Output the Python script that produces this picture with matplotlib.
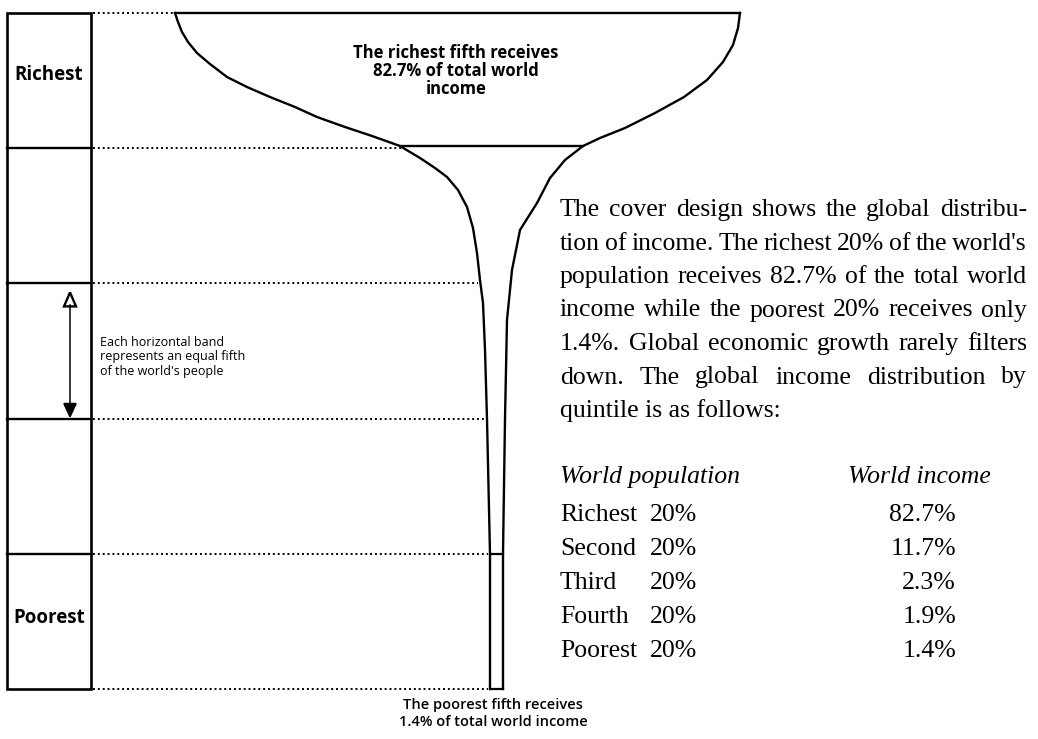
import numpy as np
import matplotlib
matplotlib.use('Agg')
import matplotlib.pyplot as plt
from matplotlib.patches import Rectangle, Polygon

# ---- data ---------------------------------------------------------------
quintiles = ['Richest', 'Second', 'Third', 'Fourth', 'Poorest']
population_share = [20, 20, 20, 20, 20]
income_share = [82.7, 11.7, 2.3, 1.9, 1.4]

# outline of the "champagne glass" (pixel units)
glass_left_y = [13, 22, 32, 42, 53, 64, 77, 87, 97, 107, 117, 127, 136, 146,
                158, 168, 177, 190, 207, 228, 253, 280, 303, 350, 419, 554, 689]
glass_left_x = [175, 178, 182, 188, 197, 210, 227, 247, 270, 295, 317, 345, 372, 400,
                420, 435, 447, 458, 467, 473, 477, 480, 483, 485, 487, 490, 490]
glass_right_y = [13, 28, 45, 62, 80, 97, 113, 128, 138, 146,
                 160, 178, 203, 230, 270, 320, 419, 554, 689]
glass_right_x = [740, 738, 733, 723, 707, 684, 655, 625, 600, 583,
                 565, 550, 537, 520, 512, 507, 505, 503, 503]

paragraph = [
    "The cover design shows the global distribu-",
    "tion of income. The richest 20% of the world's",
    "population receives 82.7% of the total world",
    "income while the poorest 20% receives only",
    "1.4%. Global economic growth rarely filters",
    "down. The global income distribution by",
    "quintile is as follows:",
]

SANS = ['Open Sans', 'DejaVu Sans']
SERIF = ['Liberation Serif', 'DejaVu Serif']

# ---- figure in pixel coordinates ---------------------------------------
W, H = 1038, 739
fig = plt.figure(figsize=(W / 100, H / 100), dpi=100)
ax = fig.add_axes([0, 0, 1, 1])
ax.set_xlim(0, W)
ax.set_ylim(H, 0)
ax.axis('off')
r = fig.canvas.get_renderer()

top, bottom = 13, 689
box_l, box_r = 7, 91
edges = np.linspace(top, bottom, len(quintiles) + 1)

# left column of bands
ax.add_patch(Rectangle((box_l, top), box_r - box_l, bottom - top,
                       fill=False, lw=1.9, ec='black'))
for e in edges[1:-1]:
    ax.plot([box_l, box_r], [e, e], color='black', lw=1.7)

# dotted guide lines up to the glass
for e in edges:
    x_end = np.interp(e, glass_left_y, glass_left_x)
    ax.plot([box_r + 2, x_end - 2], [e, e], color='black', lw=1.4,
            linestyle=(0, (1, 1.5)))

# glass outline
ax.plot(glass_left_x, glass_left_y, color='black', lw=1.7, solid_joinstyle='round')
ax.plot(glass_right_x, glass_right_y, color='black', lw=1.7, solid_joinstyle='round')
ax.plot([glass_left_x[0], glass_right_x[0]], [top, top], color='black', lw=1.7)
bowl_y = edges[1] - 2
ax.plot([np.interp(bowl_y, glass_left_y, glass_left_x),
         np.interp(bowl_y, glass_right_y, glass_right_x)], [bowl_y, bowl_y],
        color='black', lw=1.7)
for e in edges[-2:]:
    ax.plot([np.interp(e, glass_left_y, glass_left_x),
             np.interp(e, glass_right_y, glass_right_x)], [e, e],
            color='black', lw=1.6)

# band labels
ax.text((box_l + box_r) / 2, (edges[0] + edges[1]) / 2 - 6, quintiles[0],
        ha='center', va='center', fontsize=13.5, fontweight='bold', family=SANS)
ax.text((box_l + box_r) / 2, (edges[-2] + edges[-1]) / 2 - 3, quintiles[-1],
        ha='center', va='center', fontsize=13.5, fontweight='bold', family=SANS)

# arrow in the third band
ax_x = 70
a0, a1 = edges[2] + 9, edges[3] - 2
ax.plot([ax_x, ax_x], [a0 + 13, a1 - 13], color='black', lw=1.1)
ax.add_patch(Polygon([[ax_x, a0], [ax_x - 6, a0 + 14], [ax_x + 6, a0 + 14]],
                     closed=True, fc='white', ec='black', lw=1.7))
ax.add_patch(Polygon([[ax_x - 6, a1 - 13], [ax_x + 6, a1 - 13], [ax_x, a1]],
                     closed=True, fc='black', ec='black', lw=1.2))
for i, s in enumerate(["Each horizontal band", "represents an equal fifth",
                       "of the world's people"]):
    ax.text(100, 342 + 14.5 * i, s, ha='left', va='center', fontsize=9, family=SANS)

# glass captions
top_lines = ["The richest fifth receives",
             "%.1f%% of total world" % income_share[0], "income"]
for i, s in enumerate(top_lines):
    ax.text(456, 53 + 18 * i, s, ha='center', va='center', fontsize=12,
            fontweight='bold', family=SANS)
bot_lines = ["The poorest fifth receives",
             "%.1f%% of total world income" % income_share[-1]]
for i, s in enumerate(bot_lines):
    ax.text(493, 705 + 17 * i, s, ha='center', va='center', fontsize=10.5,
            fontweight='semibold', family=SANS)


# justified paragraph on the right
def justify(line, x0, x1, y, **kw):
    words = line.split()
    ts = [ax.text(x0, y, w, ha='left', va='baseline', **kw) for w in words]
    ws = [t.get_window_extent(r).width for t in ts]
    gap = (x1 - x0 - sum(ws)) / max(len(words) - 1, 1)
    x = x0
    for t, w in zip(ts, ws):
        t.set_x(x)
        x += w + gap


txt_l, txt_r = 560, 1027
for i, line in enumerate(paragraph):
    y = 216 + 33.5 * i
    if i < len(paragraph) - 1:
        justify(line, txt_l, txt_r, y, fontsize=18.5, family=SERIF)
    else:
        ax.text(txt_l, y, line, ha='left', va='baseline', fontsize=18.5, family=SERIF)

# quintile table
ax.text(txt_l, 483, "World population", ha='left', va='baseline', fontsize=18.5,
        style='italic', family=SERIF)
ax.text(848, 483, "World income", ha='left', va='baseline', fontsize=18.5,
        style='italic', family=SERIF)
for i, (q, p, v) in enumerate(zip(quintiles, population_share, income_share)):
    y = 521 + 34 * i
    ax.text(txt_l, y, q, ha='left', va='baseline', fontsize=18.5, family=SERIF)
    ax.text(650, y, "%d%%" % p, ha='left', va='baseline', fontsize=18.5, family=SERIF)
    ax.text(956, y, "%.1f%%" % v, ha='right', va='baseline', fontsize=18.5, family=SERIF)

fig.savefig('out.png', dpi=100, facecolor='white')
